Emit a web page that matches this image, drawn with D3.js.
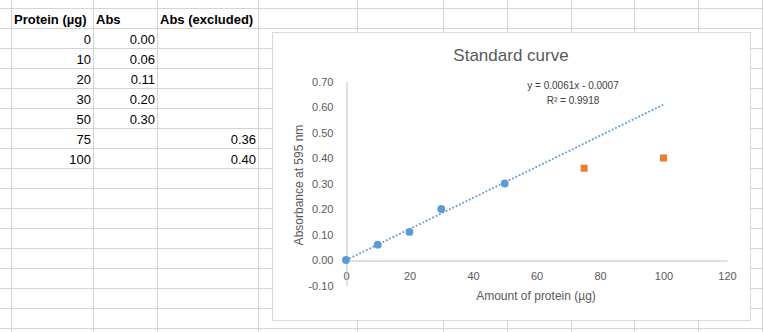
<!DOCTYPE html>
<html>
<head>
<meta charset="utf-8">
<script src="https://cdn.jsdelivr.net/npm/d3@7"></script>
<style>
  body { margin: 0; background: #fff; }
  text { font-family: "Liberation Sans", Arial, sans-serif; }
</style>
</head>
<body>
<div id="sheet"></div>
<script>
// data from the sheet
var headers = ["Protein (µg)", "Abs", "Abs (excluded)"];
var protein = [0, 10, 20, 30, 50, 75, 100];
var abs = [0.00, 0.06, 0.11, 0.20, 0.30, null, null];
var absExcluded = [null, null, null, null, null, 0.36, 0.40];
var slope = 0.0061;
var intercept = -0.0007;
var rSquared = 0.9918;
var xTicks = [0, 20, 40, 60, 80, 100, 120];
var yTicks = [-0.10, 0.00, 0.10, 0.20, 0.30, 0.40, 0.50, 0.60, 0.70];

var svgWidth = 763;
var svgHeight = 332;

var svg = d3.select("#sheet")
  .append("svg")
  .attr("width", svgWidth)
  .attr("height", svgHeight);

// spreadsheet grid
var colLines = [11.5, 93.5, 157.5, 258.5, 357.5, 443.5, 507.5, 571.5, 634.5, 698.5, 762.5];
var rowLines = d3.range(8.5, 332, 20);
var grid = svg.append("g").attr("stroke", "#d4d4d4").attr("stroke-width", 1);
grid.selectAll(".col").data(colLines).enter().append("line")
  .attr("x1", d => d).attr("x2", d => d).attr("y1", 0).attr("y2", svgHeight);
grid.selectAll(".row").data(rowLines).enter().append("line")
  .attr("x1", 0).attr("x2", svgWidth).attr("y1", d => d).attr("y2", d => d);

// cells
var cells = svg.append("g").attr("font-size", "13px").attr("fill", "#000");
var headerX = [14, 96, 160];
headers.forEach(function(h, i) {
  cells.append("text").attr("x", headerX[i]).attr("y", 24)
    .attr("font-weight", "bold").text(h);
});
protein.forEach(function(p, i) {
  var y = 44 + i * 20;
  cells.append("text").attr("x", 91).attr("y", y).attr("text-anchor", "end").text(p);
  if (abs[i] != null)
    cells.append("text").attr("x", 155).attr("y", y).attr("text-anchor", "end").text(abs[i].toFixed(2));
  if (absExcluded[i] != null)
    cells.append("text").attr("x", 256).attr("y", y).attr("text-anchor", "end").text(absExcluded[i].toFixed(2));
});

// chart box
svg.append("rect")
  .attr("x", 272.5).attr("y", 32.5)
  .attr("width", 478).attr("height", 288)
  .attr("fill", "#fff").attr("stroke", "#d9d9d9");

var xScale = d3.scaleLinear().domain([0, 120]).range([346, 727]);
var yScale = d3.scaleLinear().domain([-0.1, 0.7]).range([285.5, 81.5]);

var chartGroup = svg.append("g");

// axes
var bottomAxis = d3.axisBottom(xScale).tickValues(xTicks).tickSize(0).tickPadding(12);
var leftAxis = d3.axisLeft(yScale).tickValues(yTicks).tickSize(0).tickPadding(13)
  .tickFormat(d3.format(".2f"));

var xAxisG = chartGroup.append("g")
  .attr("transform", `translate(0, ${Math.round(yScale(0)) + 0.5})`)
  .call(bottomAxis);
var yAxisG = chartGroup.append("g")
  .attr("transform", "translate(346.5, 0)")
  .call(leftAxis);

[xAxisG, yAxisG].forEach(function(g) {
  g.select(".domain").attr("stroke", "#bfbfbf");
  g.selectAll("text")
    .attr("fill", "#595959")
    .attr("font-size", "11px")
    .attr("font-family", "'Liberation Sans', Arial, sans-serif");
});
yAxisG.selectAll("text").text(d => d3.format(".2f")(d).replace("−", "-"));

// trendline
chartGroup.append("line")
  .attr("x1", xScale(0)).attr("y1", yScale(intercept))
  .attr("x2", xScale(100)).attr("y2", yScale(slope * 100 + intercept))
  .attr("stroke", "#5b9bd5").attr("stroke-width", 1.8)
  .attr("stroke-dasharray", "1.8 1.9");

// points
var pts = protein.map((p, i) => ({ x: p, y: abs[i] })).filter(d => d.y != null);
var excl = protein.map((p, i) => ({ x: p, y: absExcluded[i] })).filter(d => d.y != null);

chartGroup.selectAll(".pt").data(pts).enter().append("circle")
  .attr("cx", d => xScale(d.x))
  .attr("cy", d => yScale(d.y))
  .attr("r", 3.9)
  .attr("fill", "#5b9bd5");

chartGroup.selectAll(".sq").data(excl).enter().append("rect")
  .attr("x", d => xScale(d.x) - 3.5)
  .attr("y", d => yScale(d.y) - 3.5)
  .attr("width", 7).attr("height", 7)
  .attr("fill", "#ed7d31");

// title and labels
chartGroup.append("text")
  .attr("x", 511).attr("y", 61)
  .attr("text-anchor", "middle")
  .attr("font-size", "17px").attr("fill", "#595959")
  .text("Standard curve");

chartGroup.append("text")
  .attr("x", 573).attr("y", 89)
  .attr("text-anchor", "middle")
  .attr("font-size", "10px").attr("fill", "#404040")
  .text(`y = ${slope}x - ${Math.abs(intercept)}`);
chartGroup.append("text")
  .attr("x", 573).attr("y", 104)
  .attr("text-anchor", "middle")
  .attr("font-size", "10px").attr("fill", "#404040")
  .text(`R² = ${rSquared}`);

chartGroup.append("text")
  .attr("transform", "translate(303, 185) rotate(-90)")
  .attr("text-anchor", "middle")
  .attr("font-size", "12px").attr("fill", "#595959")
  .text("Absorbance at 595 nm");

chartGroup.append("text")
  .attr("x", 536).attr("y", 300)
  .attr("text-anchor", "middle")
  .attr("font-size", "12px").attr("fill", "#595959")
  .text("Amount of protein (µg)");
</script>
</body>
</html>
